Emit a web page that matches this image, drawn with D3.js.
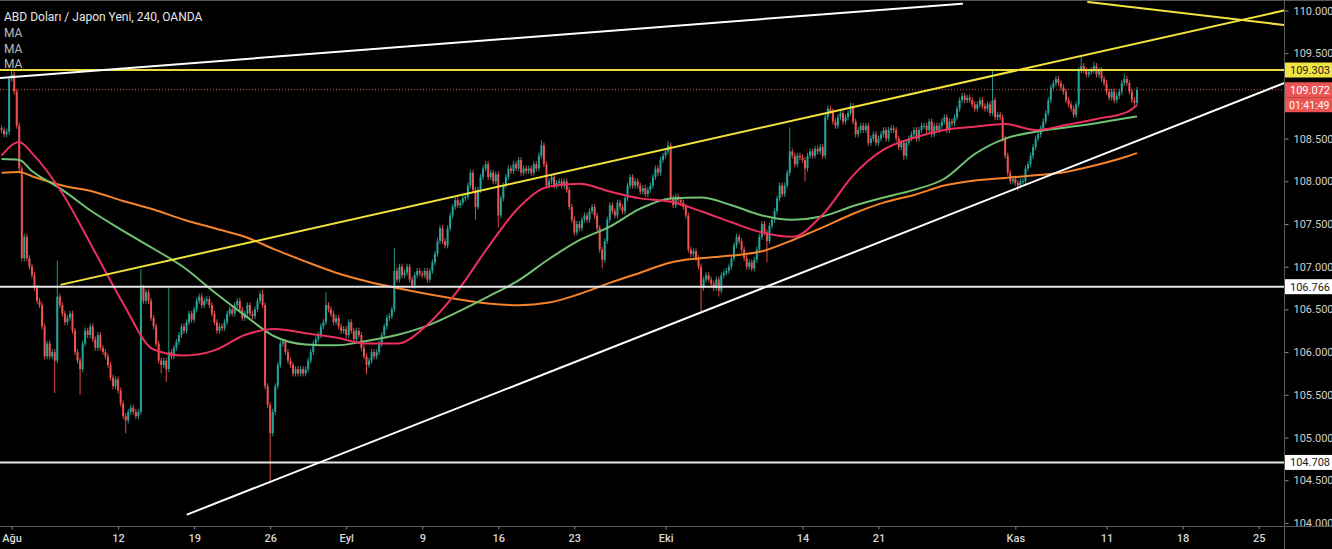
<!DOCTYPE html>
<html><head><meta charset="utf-8">
<script src="https://cdn.jsdelivr.net/npm/d3@7"></script>
<style>html,body{margin:0;padding:0;background:#000;overflow:hidden}svg{display:block}</style>
</head><body><svg id="c" width="1332" height="549"></svg>
<script>
// ---------- DATA (USD/JPY, 4h, OANDA) ----------
const title = "ABD Doları / Japon Yeni, 240, OANDA";
const maNames = ["MA","MA","MA"];
const firstOpen = 108.62;
// closes, 6 bars per trading day (first 4 = last bars of 31 Jul, last = first bar of 13 Nov)
const closes = [
 108.60,108.55,108.58,109.20,
 109.25,109.05,108.65,108.15,107.10,107.35, 107.10,107.00,106.90,106.75,106.60,106.55,
 106.30,105.95,106.10,105.95,106.00,105.90, 106.65,106.55,106.45,106.35,106.40,106.45,
 106.25,106.00,105.90,105.80,106.10,106.25, 106.20,106.30,106.15,106.05,106.20,106.05,
 106.00,105.95,105.85,105.70,105.60,105.68,
 105.55,105.40,105.25,105.20,105.30,105.35, 105.30,105.25,105.30,106.75,106.60,106.70,
 106.60,106.40,106.30,106.10,105.90,105.85, 105.90,105.80,106.00,105.95,106.05,106.12,
 106.20,106.30,106.25,106.35,106.45,106.38,
 106.50,106.60,106.65,106.55,106.60,106.62, 106.55,106.45,106.35,106.25,106.30,106.28,
 106.35,106.45,106.50,106.45,106.55,106.60, 106.50,106.40,106.45,106.55,106.45,106.42,
 106.50,106.60,106.68,106.55,105.60,105.38,
 105.05,105.30,105.60,105.85,106.10,106.12, 106.00,105.90,105.85,105.75,105.80,105.75,
 105.80,105.75,105.80,105.90,106.00,106.10, 106.15,106.20,106.30,106.35,106.55,106.50,
 106.45,106.35,106.40,106.30,106.25,106.27,
 106.20,106.35,106.25,106.15,106.25,106.20, 106.05,105.95,105.85,105.90,106.00,105.95,
 106.00,106.10,106.20,106.30,106.40,106.42, 106.50,106.95,106.85,107.00,106.90,106.93,
 107.00,106.85,106.78,106.90,106.95,106.92,
 106.90,106.95,106.85,106.95,107.05,107.15, 107.30,107.45,107.30,107.25,107.45,107.60,
 107.70,107.78,107.72,107.75,107.80,107.82, 107.95,108.10,107.90,107.70,107.90,108.05,
 108.15,108.20,108.05,108.10,108.00,108.08,
 107.60,107.80,107.95,108.05,108.15,108.12, 108.20,108.15,108.25,108.10,108.15,108.12,
 108.15,108.10,108.20,108.15,108.30,108.42, 108.20,107.95,108.00,108.05,107.95,107.98,
 108.00,107.95,108.00,107.90,107.70,107.55,
 107.40,107.50,107.45,107.55,107.60,107.55, 107.65,107.70,107.60,107.45,107.20,107.08,
 107.30,107.55,107.72,107.65,107.60,107.75, 107.70,107.65,107.80,107.95,108.05,107.95,
 108.00,107.95,107.88,107.92,107.85,107.90,
 107.95,108.05,108.15,108.10,108.25,108.30, 108.35,108.42,107.80,107.72,107.82,107.78,
 107.75,107.70,107.60,107.20,107.15,107.18, 107.10,107.00,106.75,106.85,106.90,106.85,
 106.80,106.75,106.85,106.72,106.90,106.93,
 106.95,107.00,107.10,107.25,107.35,107.30, 107.20,107.10,107.00,107.05,106.98,107.08,
 107.20,107.35,107.50,107.40,107.30,107.48, 107.55,107.65,107.80,107.95,107.85,107.95,
 108.10,108.35,108.30,108.20,108.30,108.28,
 108.25,108.15,108.30,108.35,108.30,108.38, 108.35,108.40,108.30,108.75,108.85,108.82,
 108.70,108.65,108.75,108.80,108.70,108.75, 108.80,108.88,108.70,108.55,108.60,108.65,
 108.60,108.65,108.45,108.50,108.55,108.45,
 108.50,108.55,108.60,108.50,108.60,108.62, 108.60,108.50,108.40,108.45,108.30,108.45,
 108.50,108.55,108.60,108.50,108.60,108.65, 108.65,108.60,108.70,108.55,108.65,108.60,
 108.65,108.70,108.75,108.60,108.70,108.68,
 108.75,108.85,108.95,109.00,108.95,108.98, 108.95,108.90,108.85,108.90,108.95,108.88,
 108.85,108.90,108.80,108.95,108.75,108.78, 108.75,108.50,108.30,108.10,108.00,108.03,
 107.98,107.95,108.00,108.00,108.15,108.20,
 108.30,108.40,108.50,108.55,108.62,108.70, 108.80,108.95,109.10,109.15,109.20,109.15,
 109.10,109.05,108.95,108.90,108.85,108.78, 108.90,109.30,109.35,109.30,109.25,109.28,
 109.30,109.35,109.25,109.30,109.20,109.15,
 109.05,108.98,109.05,108.95,109.00,109.05, 109.15,109.20,109.15,109.05,108.95,108.92,
 109.07
];
// notable wick extremes
const highBars = [4,22,55,66,103,128,155,213,263,311,335,391,426,431,443];
const highVals = [109.32,107.07,106.97,106.75,106.73,106.70,107.22,108.48,108.47,108.63,108.92,109.29,109.48,109.40,109.26];
const lowBars  = [21,31,49,63,65,106,144,187,196,237,276,283,302,317,356,401];
const lowVals  = [105.52,105.50,105.05,105.75,105.65,104.46,105.74,107.55,107.46,106.98,106.48,106.65,107.05,108.00,108.25,107.89];

// moving averages, sampled at bar indices
const maBars = [0,7,12,24,36,48,60,72,84,96,108,120,132,144,156,168,180,192,204,216,228,240,252,264,276,288,300,312,324,336,348,360,372,384,396,408,420,432,444,448];
const maRed = [108.30,108.46,108.33,107.86,107.22,106.57,106.03,105.96,106.02,106.20,106.27,106.22,106.17,106.10,106.10,106.32,106.72,107.23,107.69,107.94,107.97,107.88,107.80,107.76,107.65,107.52,107.40,107.35,107.61,108.07,108.37,108.51,108.60,108.64,108.67,108.60,108.66,108.73,108.81,108.89];
const maGreen = [108.26,108.25,108.12,107.90,107.64,107.42,107.21,106.99,106.70,106.43,106.18,106.09,106.08,106.13,106.20,106.31,106.47,106.65,106.84,107.09,107.31,107.47,107.68,107.80,107.81,107.72,107.60,107.55,107.59,107.71,107.81,107.90,108.03,108.32,108.50,108.58,108.63,108.68,108.74,108.76];
const maOrange = [108.10,108.11,108.06,107.95,107.88,107.77,107.67,107.55,107.45,107.35,107.20,107.06,106.93,106.83,106.75,106.68,106.62,106.57,106.55,106.58,106.68,106.81,106.93,107.05,107.10,107.13,107.18,107.31,107.46,107.62,107.75,107.84,107.95,108.01,108.04,108.07,108.11,108.19,108.29,108.33];

// drawn trend lines: [startBar, startPrice, endBar, endPrice]
const lineWhiteTop = [-0.83,109.21,379,110.08];
const lineWhiteSupport = [73.4,104.10,506,109.15];
const lineYellowRise = [23.6,106.79,506,110.00];
const lineYellowFall = [428.7,110.10,506,109.83];
// horizontal levels
const levelYellow = 109.303;
const levelWhite = [106.766,104.708];
const lastPrice = 109.072;
const countdown = "01:41:49";

// 109.000 is hidden behind the last-price tag in the original
const priceTicks = [110,109.5,108.5,108,107.5,107,106.5,106,105.5,105,104.5,104];
const timeTickBars = [4,46,76,106,136,166,196,226,262,316,346,400,436,466,496];
const timeTickLabels = ["Ağu","12","19","26","Eyl","9","16","23","Eki","14","21","Kas","11","18","25"];

// ---------- CHART ----------
const W = 1332, H = 549, plotW = 1284, plotH = 526;
const svg = d3.select("#c");
svg.append("rect").attr("width",W).attr("height",H).attr("fill","#000");
const x = d3.scaleLinear().domain([-0.6,506]).range([0,plotW]);
const y = d3.scaleLinear().domain([104,110]).range([522.9,10.5]);
const FONT = "Roboto, 'Liberation Sans', sans-serif";

svg.append("clipPath").attr("id","clip").append("rect").attr("width",plotW).attr("height",plotH);
const g = svg.append("g").attr("clip-path","url(#clip)");

// candles
const opens = closes.map((c,i)=> i===0 ? firstOpen : closes[i-1]);
const hiMap = new Map(highBars.map((b,i)=>[b,highVals[i]]));
const loMap = new Map(lowBars.map((b,i)=>[b,lowVals[i]]));
const wickPad = 0.035;
const bars = closes.map((c,i)=>{
  const o = opens[i];
  return {i,o,c,
    h: hiMap.has(i)?hiMap.get(i):Math.max(o,c)+wickPad,
    l: loMap.has(i)?loMap.get(i):Math.min(o,c)-wickPad};
});
const up = "#26a69a", dn = "#ef5350";
const step = x(1)-x(0), bw = step*0.78;
const cg = g.append("g");
cg.selectAll("line").data(bars).join("line")
  .attr("x1",d=>x(d.i)).attr("x2",d=>x(d.i))
  .attr("y1",d=>y(d.h)).attr("y2",d=>y(d.l))
  .attr("stroke",d=>d.c>=d.o?up:dn).attr("stroke-width",0.9);
cg.selectAll("rect").data(bars).join("rect")
  .attr("x",d=>x(d.i)-bw/2).attr("width",bw)
  .attr("y",d=>y(Math.max(d.o,d.c)))
  .attr("height",d=>Math.max(1,Math.abs(y(d.o)-y(d.c))))
  .attr("fill",d=>d.c>=d.o?up:dn);

// moving averages
const maLine = d3.line().x((d,i)=>x(maBars[i])).y(d=>y(d)).curve(d3.curveMonotoneX);
[[maOrange,"#f5832a"],[maGreen,"#72c274"],[maRed,"#ec2f5e"]].forEach(([arr,col])=>{
  g.append("path").attr("d",maLine(arr)).attr("fill","none").attr("stroke",col).attr("stroke-width",2);
});

// horizontal levels
g.append("line").attr("x1",0).attr("x2",plotW).attr("y1",y(lastPrice)).attr("y2",y(lastPrice))
  .attr("stroke","#ef5350").attr("stroke-width",1).attr("stroke-dasharray","1,2");
g.append("line").attr("x1",0).attr("x2",plotW).attr("y1",y(levelYellow)).attr("y2",y(levelYellow))
  .attr("stroke","#eadc3c").attr("stroke-width",2);
levelWhite.forEach(v=>g.append("line").attr("x1",0).attr("x2",plotW).attr("y1",y(v)).attr("y2",y(v))
  .attr("stroke","#e6e6e6").attr("stroke-width",2));

// trend lines
function seg(a,col){
  g.append("line").attr("x1",x(a[0])).attr("y1",y(a[1])).attr("x2",x(a[2])).attr("y2",y(a[3]))
   .attr("stroke",col).attr("stroke-width",2).attr("stroke-linecap","round");
}
seg(lineWhiteTop,"#ffffff");
seg(lineWhiteSupport,"#ffffff");
seg(lineYellowRise,"#f2e33d");
seg(lineYellowFall,"#f2e33d");

// price axis
const yAxis = svg.append("g").attr("transform",`translate(${plotW+0.5},0)`)
  .call(d3.axisRight(y).tickValues(priceTicks).tickFormat(d3.format(".3f")).tickSize(4).tickPadding(5));
yAxis.select(".domain").remove();
yAxis.selectAll("line").attr("stroke","#888");
yAxis.selectAll("text").attr("fill","#cfcfcf").attr("font-family",FONT).attr("font-size",11);
// the bottom-most label is cut by the time-axis band, as in the original
svg.append("rect").attr("x",plotW+1).attr("y",plotH+1).attr("width",W-plotW).attr("height",H-plotH).attr("fill","#000");

// frame lines
svg.append("line").attr("x1",0).attr("x2",W).attr("y1",0.5).attr("y2",0.5).attr("stroke","#555");
svg.append("line").attr("x1",0).attr("x2",W).attr("y1",plotH+0.5).attr("y2",plotH+0.5).attr("stroke","#5a5a5a");
svg.append("line").attr("x1",plotW+0.5).attr("x2",plotW+0.5).attr("y1",0).attr("y2",H).attr("stroke","#5a5a5a");

function tag(v,label,bg,fg){
  const yy = y(v);
  svg.append("rect").attr("x",plotW+1).attr("y",yy-7.5).attr("width",W-plotW-1).attr("height",15).attr("fill",bg);
  svg.append("text").attr("x",plotW+6).attr("y",yy+4).attr("fill",fg).attr("font-family",FONT).attr("font-size",11).text(label);
}
tag(levelYellow,levelYellow.toFixed(3),"#f0e442","#222");
tag(lastPrice,lastPrice.toFixed(3),"#ec5454","#fff");
// countdown below price tag
svg.append("rect").attr("x",plotW+1).attr("y",y(lastPrice)+7.5).attr("width",W-plotW-1).attr("height",15).attr("fill","#ec5454");
svg.append("text").attr("x",plotW+5).attr("y",y(lastPrice)+19).attr("fill","#fff").attr("font-family",FONT).attr("font-size",10.5).text(countdown);
levelWhite.forEach(v=>tag(v,v.toFixed(3),"#ffffff","#222"));

// time axis
const xAxis = svg.append("g").attr("transform",`translate(0,${plotH+0.5})`)
  .call(d3.axisBottom(x).tickValues(timeTickBars).tickFormat((d,i)=>timeTickLabels[i]).tickSize(3).tickPadding(5));
xAxis.select(".domain").remove();
xAxis.selectAll("line").attr("stroke","#888");
xAxis.selectAll("text").attr("fill","#d6d6d6").attr("font-family",FONT).attr("font-size",11).attr("font-weight",500);

// title & legend
svg.append("text").attr("x",4).attr("y",21).attr("fill","#e6e6e6").attr("font-family",FONT).attr("font-size",12).text(title);
maNames.forEach((t,i)=>svg.append("text").attr("x",4).attr("y",37+i*15.5).attr("fill","#bdbdbd").attr("font-family",FONT).attr("font-size",12).text(t));
</script>
</body></html>
